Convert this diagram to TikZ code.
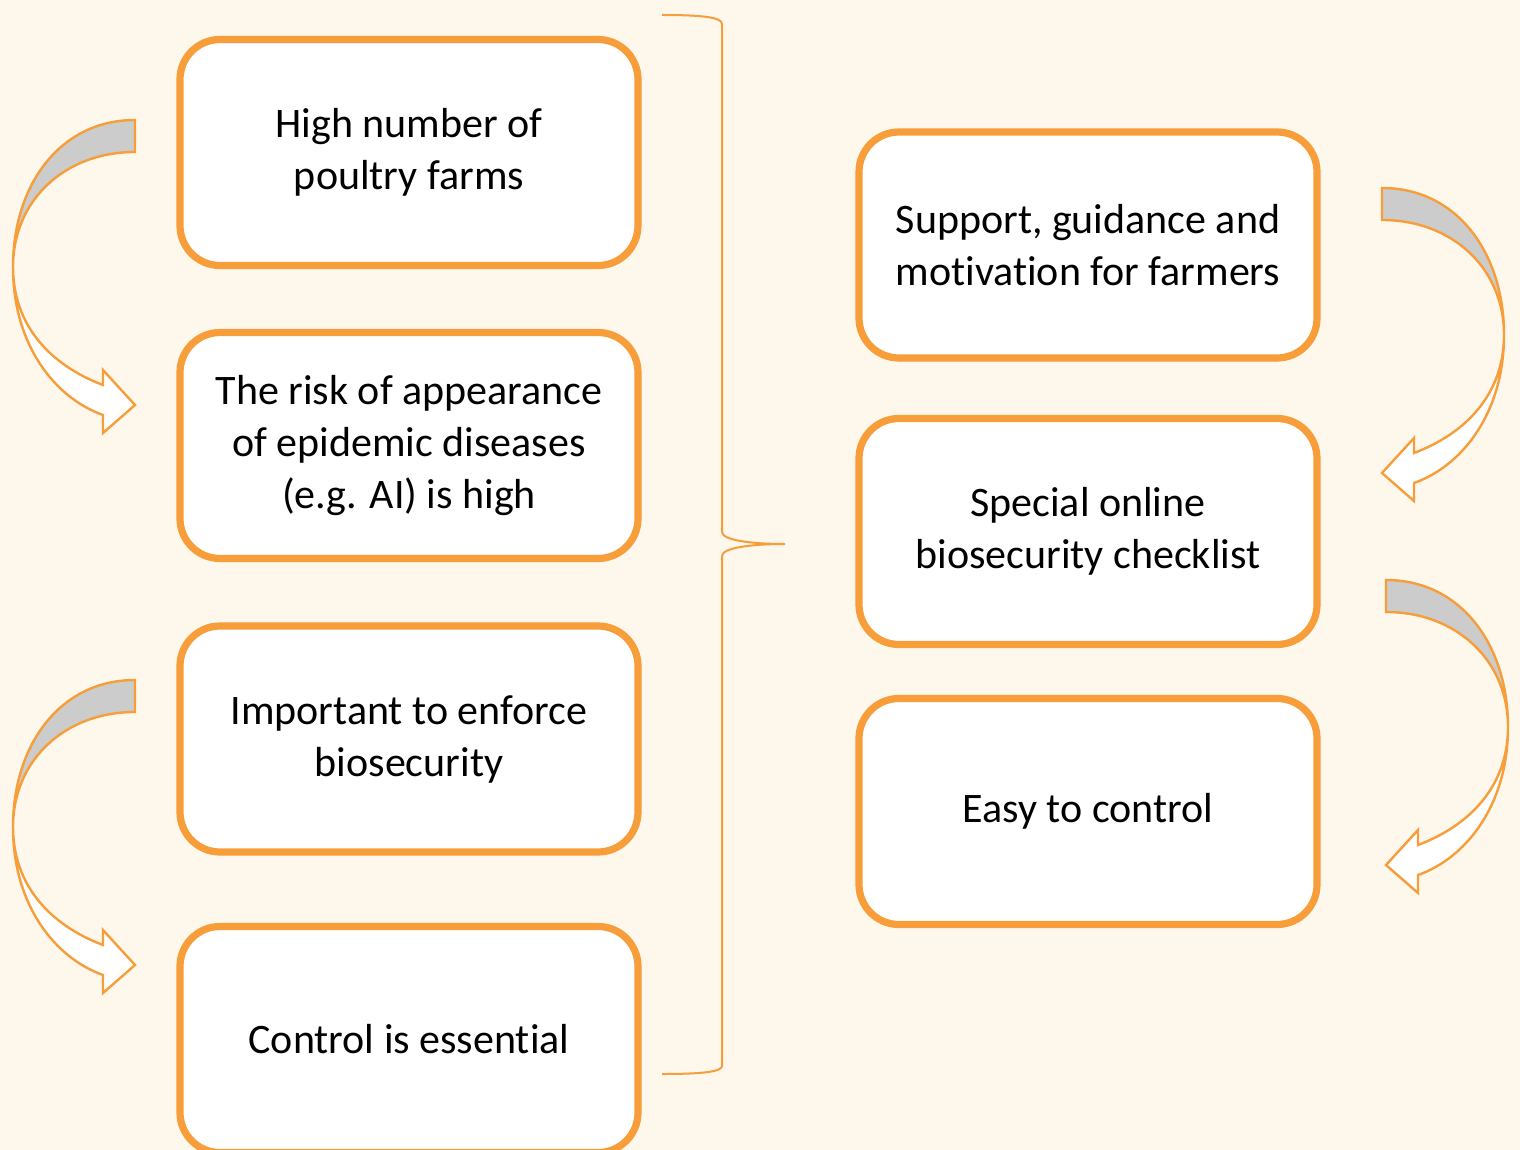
\documentclass[tikz,border=0pt]{standalone}
\usepackage{fontspec}
\setmainfont[Ligatures=NoCommon]{Carlito}
\definecolor{bg}{HTML}{FEF7EC}
\definecolor{orng}{HTML}{F79D3A}
\definecolor{grey}{HTML}{CCCCCC}

\begin{document}
\begin{tikzpicture}[x=0.5pt,y=-0.5pt]

\tikzstyle{box}=[rectangle,rounded corners=20pt,draw=orng,line width=3.6pt,fill=white,minimum width=229pt,minimum height=113pt,align=center,font=\fontsize{21}{26}\selectfont]
\tikzstyle{band}=[draw=orng,line width=1.2pt,line join=miter]
\tikzstyle{brace}=[draw=orng,line width=1pt]
\tikzset{turn/.pic={
  \draw[band,fill=grey] (135,120) .. controls (60,120) and (13,185) .. (13,267)
     .. controls (13,200) and (65,152) .. (135,152) -- cycle;
  \draw[band,fill=white] (13,267) .. controls (13,345) and (55,398) .. (103,415)
     -- (103,433) -- (135,405) -- (103,370) -- (103,385)
     .. controls (50,365) and (13,325) .. (13,267) -- cycle;
}}

\fill[bg] (0,0) rectangle (1520,1150);
\useasboundingbox (0,0) rectangle (1520,1150);

% left column
\node[box] (farms)   at (409,152.5) {High number of\\poultry farms} ;
\node[box] (risk)    at (409,445.5) {The risk of appearance\\of epidemic diseases\\(e.g. AI) is high} ;
\node[box] (enforce) at (409,739)   {Important to enforce\\biosecurity} ;
\node[box] (control) at (409,1039.5) {Control is essential} ;

% right column
\node[box] (support)   at (1088,245)   {Support, guidance and\\motivation for farmers} ;
\node[box] (checklist) at (1088,531.5) {Special online\\biosecurity checklist} ;
\node[box] (easy)      at (1088,811.5) {Easy to control} ;

% bent arrows
\pic at (0,0)   {turn};
\pic at (0,560) {turn};
\pic[xscale=-1] at (1517,68)  {turn};
\pic[xscale=-1] at (1521,460) {turn};

% brace
\coordinate (tip) at (785,544) ;
\draw[brace] (662,15) .. controls (700,15) and (722,17) .. (722,24) -- (722,532)
   .. controls (722,540) and (750,544) .. (tip)
   .. controls (750,544) and (722,548) .. (722,556) -- (722,1066)
   .. controls (722,1072) and (700,1074) .. (662,1074);

\end{tikzpicture}
\end{document}
